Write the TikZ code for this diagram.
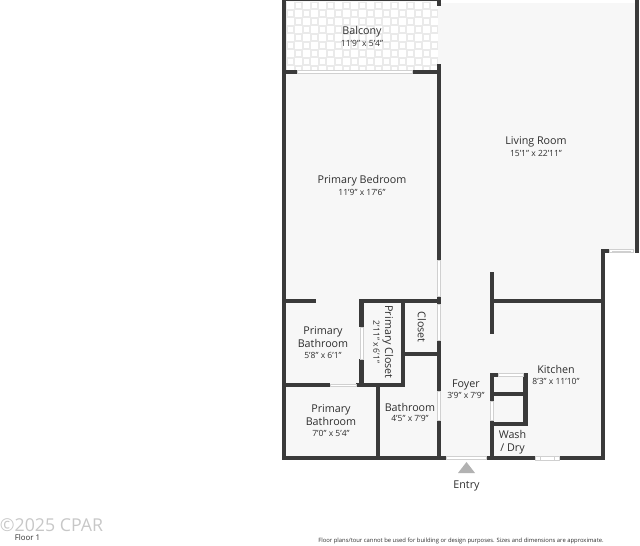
\documentclass[tikz,border=0pt]{standalone}
\usepackage{fontspec}
\setmainfont{Open Sans}
\tikzset
{
  wall/.style={fill=wallcolor,draw=none},
  opening/.style={fill=white,draw=openingline,line width=.3pt},
  room/.style={font=\fontsize{8.05}{9.75}\selectfont,text=labelcolor,align=center,inner sep=0pt},
  size/.style={font=\fontsize{6.4}{8}\selectfont,text=labelcolor,align=center,inner sep=0pt}
}
\definecolor{wallcolor}{HTML}{3A3A3A}
\definecolor{floorcolor}{HTML}{F7F7F7}
\definecolor{tilecolor}{HTML}{EAEAEA}
\definecolor{openingline}{HTML}{D0D0D0}
\definecolor{labelcolor}{HTML}{2E2E2E}
\begin{document}
\begin{tikzpicture}[x=.75pt,y=-.75pt,line cap=butt,line join=miter]
  \useasboundingbox (0,0) rectangle (640,546);
  % koordinate
  \coordinate (W1) at (284,0);
  \coordinate (W2) at (639,0);
  \coordinate (W3) at (639,251);
  \coordinate (W4) at (603,251);
  \coordinate (W5) at (603,458);
  \coordinate (W6) at (284,458);
  % tla
  \fill[floorcolor] (W1) -- (W2) -- (W3) -- (W4) -- (W5) -- (W6) -- cycle;
  % balkon
  \fill[tilecolor] (286,2) rectangle (438,70);
  \foreach\i in {0,...,18}
    \foreach\j in {0,...,8}
    {
      \pgfmathsetmacro\tile{mod(\i+\j,2)==0 ? 6.6 : 4.6}
      \fill[white] (290.75+8*\i-\tile/2,5.75+8*\j-\tile/2) rectangle ++(\tile,\tile);
    }
  \fill[white] (441,0) rectangle (639,2.5);
  % zunanje stene
  \foreach\a/\b/\c/\d in {
      282/0/286/460,   282/456/446/460,  486/456/535/460,  559/456/605/460,
      601/249/605/460, 601/249/609/253,  634.5/0/639/253,  284/0/441/1.5,
      437/0/441/6,     437/64/441/260,   437/296/441/304,  437/340/441/391,
      437/420/441/460, 285/70/297/74,    412/70/441/74}
    \fill[wall] (\a,\b) rectangle (\c,\d);
  % notranje stene
  \foreach\a/\b/\c/\d in {
      285/299/316/303, 359/299/439/303,  359/299/364/327,  359/359/364/387,
      401/299/405/387, 285/383/330/387,  356/383/405/387,  405/352/439/356,
      376/386/380/458, 490/272/494/334,  494/299/603/303,  490/373/494/401,
      490/420/494/458, 490/373/498/377,  523/373/528/377,  523/373/528/426,
      494/392/525/396, 494/422/528/426}
    \fill[wall] (\a,\b) rectangle (\c,\d);
  % vrata in okna
  \foreach\a/\b/\c/\d in {
      297/70.5/412/73.5, 437.5/260/440.5/296, 437.5/304/440.5/340, 437.5/391/440.5/420,
      360/327/363/359,   330/384/356/386.5,   446/456.5/486/459.5, 535/456/559/460,
      609/249.5/633/252.5, 498/373.5/523/376.5, 490.5/401/493.5/420}
    \draw[opening] (\a,\b) rectangle (\c,\d);
  \draw[opening] (540,456) -- (540,460) (554,456) -- (554,460) (612,251) -- (631,251);
  % vhod
  \fill[black!30] (458,473) -- (466.5,462) -- (475,473) -- cycle;
  \node (entry) at (466.5,486) [room] {Entry};
  % oznake
  \node (balcony)   at (362,31.5)  [room] {Balcony};
  \node (balconys)  at (362,43)    [size] {11'9" x 5'4"};
  \node (living)    at (536,142)   [room] {Living Room};
  \node (livings)   at (536,153)   [size] {15'1" x 22'11"};
  \node (bedroom)   at (362,181)   [room] {Primary Bedroom};
  \node (bedrooms)  at (362,192)   [size] {11'9" x 17'6"};
  \node (bath)      at (323,337)   [room] {Primary\\Bathroom};
  \node (baths)     at (323,355)   [size] {5'8" x 6'1"};
  \node (bathb)     at (331,415.5) [room] {Primary\\Bathroom};
  \node (bathbs)    at (331,433.5) [size] {7'0" x 5'4"};
  \node (bathroom)  at (410,407)   [room] {Bathroom};
  \node (bathrooms) at (410,418.5) [size] {4'5" x 7'9"};
  \node (foyer)     at (466,384.5) [room] {Foyer};
  \node (foyers)    at (466,395.5) [size] {3'9" x 7'9"};
  \node (kitchen)   at (556,369.5) [room] {Kitchen};
  \node (kitchens)  at (556,381)   [size] {8'3" x 11'10"};
  \node (wash)      at (512.5,442) [room] {Wash\\/ Dry};
  \node (closet)    at (422,327) [room,rotate=-90] {Closet};
  \node (pcloset)   at (388,342) [room,rotate=-90] {Primary Closet};
  \node (pclosets)  at (376.5,342) [size,rotate=-90] {2'11" x 6'1"};
  % noga
  \node (mark)  at (51.5,525) [inner sep=0pt,text=black!22,font=\fontsize{13.3}{16}\selectfont] {©2025 CPAR};
  \node (floor) at (27.5,538) [inner sep=0pt,text=labelcolor,font=\fontsize{5.9}{7}\selectfont] {Floor 1};
  \node (note)  at (461,541)  [inner sep=0pt,text=labelcolor,font=\fontsize{4.4}{6}\selectfont] {Floor plans/tour cannot be used for building or design purposes. Sizes and dimensions are approximate.};
\end{tikzpicture}
\end{document}
